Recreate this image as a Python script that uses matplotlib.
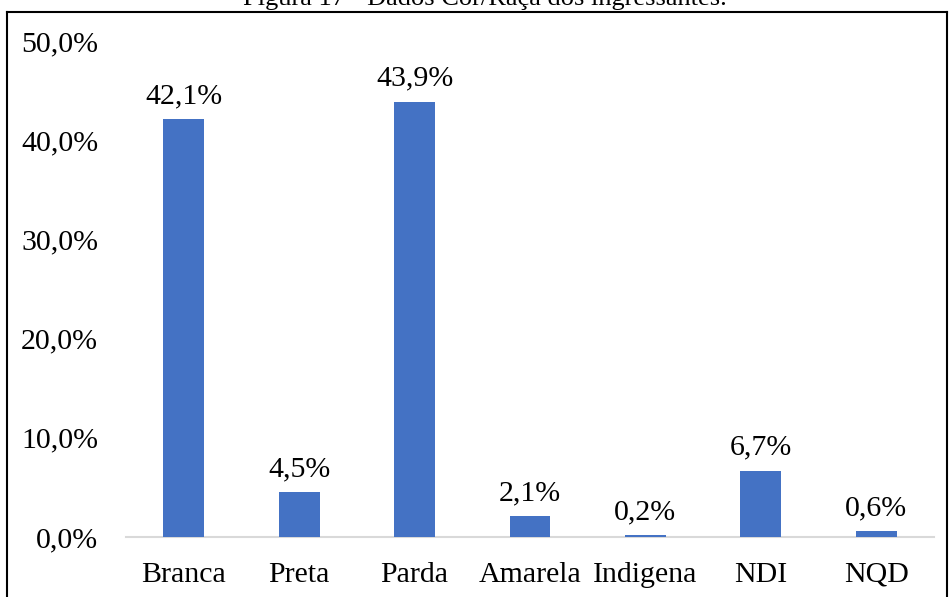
import matplotlib
matplotlib.use("Agg")
import matplotlib.pyplot as plt
import matplotlib.transforms as mtransforms
from matplotlib.lines import Line2D

categories = ["Branca", "Preta", "Parda", "Amarela", "Indigena", "NDI", "NQD"]
values = [42.1, 4.5, 43.9, 2.1, 0.2, 6.7, 0.6]
yticks = [0, 10, 20, 30, 40, 50]
title = "Figura 17 - Dados Cor/Raça dos ingressantes."

plt.rcParams['font.family'] = ['Liberation Serif', 'DejaVu Serif']

W, H = 949, 597
FS = 21.5
fig = plt.figure(figsize=(W/100, H/100), dpi=100)
ax = fig.add_axes([126/W, 1-537/H, (934-126)/W, (537-41)/H])

x = list(range(len(categories)))
ax.bar(x, values, width=0.355, color="#4472C4", zorder=3)
for xi, v in zip(x, values):
    ax.text(xi, v + 1.0, f"{v:.1f}".replace(".", ",") + "%", ha="center", va="bottom", fontsize=FS)

ax.set_xlim(-0.5, len(categories) - 0.5)
ax.set_ylim(0, 50)
ax.set_yticks(yticks)
ax.set_yticklabels([f"{t:.1f}".replace(".", ",") + "%" for t in yticks], fontsize=FS)
ax.set_xticks(x)
ax.set_xticklabels([])
ax.tick_params(axis="both", length=0)
ax.tick_params(axis="y", pad=20)

# category labels aligned on a common baseline
base = mtransforms.blended_transform_factory(ax.transData, ax.transAxes)
lab_tr = mtransforms.offset_copy(base, fig=fig, x=0, y=-45, units="dots")
for xi, c in zip(x, categories):
    ax.text(xi, 0, c, transform=lab_tr, ha="center", va="baseline", fontsize=FS, clip_on=False)

for s in ["top", "right", "left"]:
    ax.spines[s].set_visible(False)
ax.spines["bottom"].set_color("#D9D9D9")
ax.spines["bottom"].set_linewidth(1.5)

# outer frame
fig.add_artist(Line2D([7/W, 7/W], [0, 1-12/H], transform=fig.transFigure, color="black", lw=1.5))
fig.add_artist(Line2D([7/W, 947/W], [1-12/H, 1-12/H], transform=fig.transFigure, color="black", lw=1.5))
fig.add_artist(Line2D([947/W, 947/W], [0, 1-12/H], transform=fig.transFigure, color="black", lw=1.5))

fig.text(485/W, 1-5/H, title, ha="center", va="baseline", fontsize=19)

fig.savefig("out.png", dpi=100)
